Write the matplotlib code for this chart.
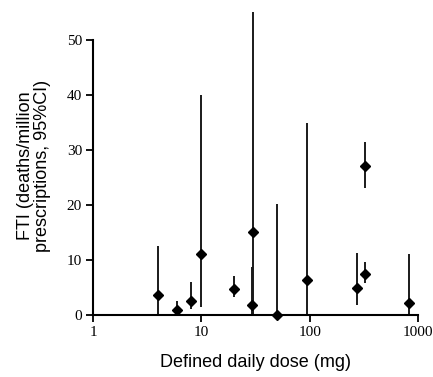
import matplotlib.pyplot as plt

# Dose (mg) vs fatal toxicity index with 95% CI
dose = [4, 6, 8, 10, 20, 29, 30, 50, 95, 270, 320, 320, 820]
fti = [3.6, 0.9, 2.5, 11.0, 4.7, 1.8, 15.0, 0.0, 6.3, 4.9, 27.1, 7.5, 2.1]
ci_low = [0.0, 0.0, 1.0, 1.5, 3.3, 0.0, 0.0, 0.0, 0.0, 1.8, 23.1, 5.8, 0.0]
ci_high = [12.5, 2.5, 6.0, 40.0, 7.1, 8.7, 55.0, 20.2, 34.9, 11.3, 31.5, 9.6, 11.1]

fig = plt.figure(figsize=(4.33, 3.77), dpi=100)
ax = fig.add_axes([0.215, 0.1645, 0.751, 0.7295])

yerr = [[f - lo for f, lo in zip(fti, ci_low)],
        [hi - f for f, hi in zip(fti, ci_high)]]
eb = ax.errorbar(dose, fti, yerr=yerr, fmt='D', color='black', ecolor='#1a1a1a',
                 markersize=5.5, elinewidth=1.4, capsize=0, clip_on=False)
for artist in eb.lines[2]:
    artist.set_clip_on(False)

ax.set_xscale('log')
ax.set_xlim(1, 1000)
ax.set_ylim(0, 50)
ax.set_xticks([1, 10, 100, 1000])
ax.set_xticklabels(['1', '10', '100', '1000'])
ax.minorticks_off()
ax.set_yticks([0, 10, 20, 30, 40, 50])

for side in ['top', 'right']:
    ax.spines[side].set_visible(False)
for side in ['left', 'bottom']:
    ax.spines[side].set_linewidth(1.5)

ax.tick_params(axis='both', direction='out', length=5, width=1.3, pad=3)
for lbl in ax.get_xticklabels() + ax.get_yticklabels():
    lbl.set_family('Liberation Serif')
    lbl.set_fontsize(11)

ax.set_xlabel('Defined daily dose (mg)', family='Liberation Sans', fontsize=13, labelpad=11)
ax.set_ylabel('FTI (deaths/million\nprescriptions, 95%CI)', family='Liberation Sans',
              fontsize=13, linespacing=0.95)
ax.yaxis.set_label_coords(-0.13, 0.542)

fig.savefig('out.png', dpi=100)
